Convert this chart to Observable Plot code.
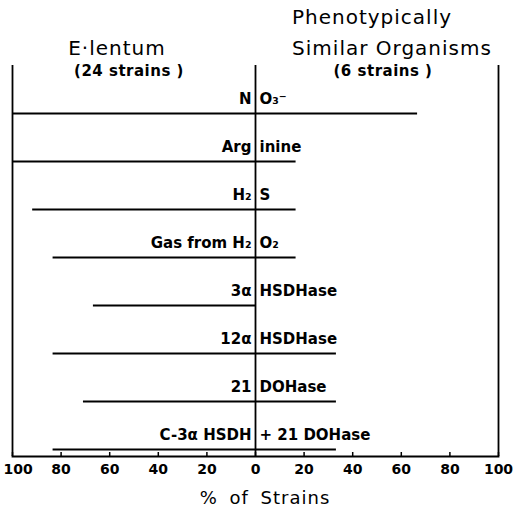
<!DOCTYPE html>
<html><head><meta charset="utf-8">
<script src="https://cdn.jsdelivr.net/npm/d3@7"></script>
<script src="https://cdn.jsdelivr.net/npm/@observablehq/plot@0.6"></script>
<style>
body{margin:0;background:#fff;}
#wrap{position:relative;width:517px;height:519px;font-family:"DejaVu Sans",sans-serif;color:#000;}
.h{position:absolute;width:240px;text-align:center;line-height:22px;white-space:nowrap;}
.big{font-size:20px;letter-spacing:1px;}
.sub{font-size:15px;font-weight:bold;letter-spacing:0.5px;}
</style></head>
<body><div id="wrap">
<div id="chart"></div>
<div class="h big" style="left:252px;top:6px">Phenotypically</div>
<div class="h big" style="left:-3px;top:37px">E·lentum</div>
<div class="h big" style="left:272px;top:37px">Similar Organisms</div>
<div class="h sub" style="left:9px;top:60px">(24 strains )</div>
<div class="h sub" style="left:263px;top:60px">(6 strains )</div>
<div class="h big" style="left:145px;top:487px;font-size:18px;word-spacing:5px;">% of Strains</div>
</div>
<script>
const tests = ["NO3", "Arginine", "H2S", "Gas from H2O2", "3a HSDHase", "12a HSDHase", "21 DOHase", "C-3a HSDH + 21 DOHase"];
const leftLabels = ["N", "Arg", "H₂", "Gas from H₂", "3α", "12α", "21", "C-3α HSDH"];
const rightLabels = ["O₃⁻", "inine", "S", "O₂", "HSDHase", "HSDHase", "DOHase", "+ 21 DOHase"];
const eLentum = [100, 100, 91.7, 83.3, 66.7, 83.3, 70.8, 83.3];
const similar = [66.7, 16.7, 16.7, 16.7, 0, 33.3, 33.3, 33.3];
const tickValues = [-80, -60, -40, -20, 0, 20, 40, 60, 80, 100];
const edgeTick = [-100];

const data = tests.map((t, i) => ({test: t, left: eLentum[i], right: similar[i], ll: leftLabels[i], rl: rightLabels[i]}));
const labelStyle = {tickSize: 0, tickPadding: 8, tickFormat: d => Math.abs(d), label: null, fontSize: 14, fontWeight: "bold"};

const chart = Plot.plot({
  width: 517, height: 519,
  marginLeft: 12, marginRight: 19, marginTop: 65, marginBottom: 63,
  style: {background: "#fff", color: "#000", fontFamily: "DejaVu Sans, sans-serif"},
  x: {domain: [-100, 100]},
  y: {type: "point", domain: tests, range: [113, 449], padding: 0, axis: null},
  marks: [
    Plot.ruleX([-100, 0, 100], {stroke: "#000", strokeWidth: 1.8}),
    Plot.frame({anchor: "bottom", stroke: "#000", strokeWidth: 1.8}),
    Plot.ruleY(data, {y: "test", x1: d => -d.left, x2: d => d.right, stroke: "#000", strokeWidth: 2}),
    Plot.text(data, {x: 0, y: "test", text: "ll", textAnchor: "end", dx: -4, dy: -14, fontSize: 15, fontWeight: "bold"}),
    Plot.text(data, {x: 0, y: "test", text: "rl", textAnchor: "start", dx: 4, dy: -14, fontSize: 15, fontWeight: "bold"}),
    Plot.axisX(tickValues.concat(edgeTick), {tickSize: -4, tickFormat: () => "", label: null, strokeWidth: 1.5}),
    Plot.axisX(tickValues, labelStyle),
    Plot.axisX(edgeTick, {...labelStyle, textAnchor: "start", dx: -9})
  ]
});
document.getElementById("chart").appendChild(chart);
</script>
</body></html>
